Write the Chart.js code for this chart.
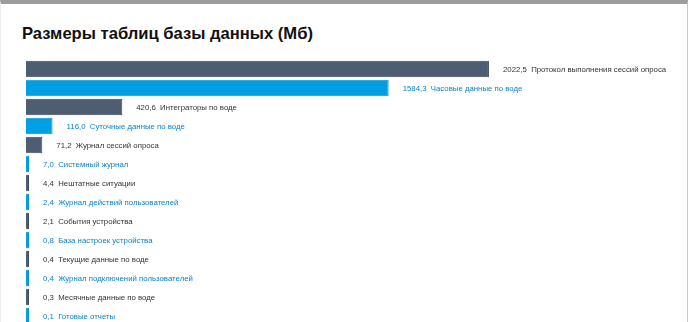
<!DOCTYPE html>
<html>
<head>
<meta charset="utf-8">
<script src="https://cdn.jsdelivr.net/npm/chart.js@4/dist/chart.umd.min.js"></script>
<style>
    html, body { margin: 0; padding: 0; background: #fff; overflow: hidden; }
    .frame {
        position: absolute; left: 0; top: 0; width: 686px; height: 340px;
        border-top: 4px solid #9c9c9c; border-right: 1px solid #c8c8c8; border-left: 1px solid #eeeeee;
    }
    .frame h1 {
        position: absolute; left: 21px; top: 20px; margin: 0;
        font: bold 16.6px "Liberation Sans", Arial, sans-serif; color: #111;
    }
    .frame canvas { position: absolute; left: 0; top: 0; }
</style>
</head>
<body>
<div class="frame">
    <h1>Размеры таблиц базы данных (Мб)</h1>
    <canvas id="sizes" width="686" height="336"></canvas>
</div>
<script>
const tableNames = [
    'Протокол выполнения сессий опроса',
    'Часовые данные по воде',
    'Интеграторы по воде',
    'Суточные данные по воде',
    'Журнал сессий опроса',
    'Системный журнал',
    'Нештатные ситуации',
    'Журнал действий пользователей',
    'События устройства',
    'База настроек устройства',
    'Текущие данные по воде',
    'Журнал подключений пользователей',
    'Месячные данные по воде',
    'Готовые отчеты'
];
const tableSizes = [2022.5, 1584.3, 420.6, 116.0, 71.2, 7.0, 4.4, 2.4, 2.1, 0.8, 0.4, 0.4, 0.3, 0.1];

const darkBar = '#4e5e72';
const blueBar = '#009fe3';
const darkText = '#333333';
const blueText = '#0b82c8';

// bars alternate dark / blue
const barColors = tableSizes.map((v, i) => i % 2 === 0 ? darkBar : blueBar);
const borderColors = tableSizes.map((v, i) => i % 2 === 0 ? '#3f4c5d' : '#0a92d2');
const textColors = tableSizes.map((v, i) => i % 2 === 0 ? darkText : blueText);

const valueLabels = {
    id: 'valueLabels',
    afterDatasetsDraw(chart) {
        const ctx = chart.ctx;
        const meta = chart.getDatasetMeta(0);
        ctx.save();
        ctx.font = '7.8px "Liberation Sans", Arial, sans-serif';
        ctx.textBaseline = 'middle';
        meta.data.forEach((bar, i) => {
            const txt = tableSizes[i].toFixed(1).replace('.', ',') + '  ' + tableNames[i];
            ctx.fillStyle = textColors[i];
            ctx.fillText(txt, bar.x + 14, bar.y + 1);
        });
        ctx.restore();
    }
};

new Chart(document.getElementById('sizes').getContext('2d'), {
    type: 'bar',
    data: {
        labels: tableNames,
        datasets: [{
            data: tableSizes,
            backgroundColor: barColors,
            borderColor: borderColors,
            borderWidth: 1,
            borderSkipped: 'left',
            minBarLength: 3,
            categoryPercentage: 1,
            barPercentage: 0.87
        }]
    },
    options: {
        indexAxis: 'y',
        responsive: false,
        animation: false,
        layout: { padding: { left: 25, right: 86, top: 55.5, bottom: 14.5 } },
        plugins: {
            legend: { display: false },
            tooltip: { enabled: false }
        },
        scales: {
            x: { display: false, min: 0, max: 2512 },
            y: { display: false }
        }
    },
    plugins: [valueLabels]
});
</script>
</body>
</html>
